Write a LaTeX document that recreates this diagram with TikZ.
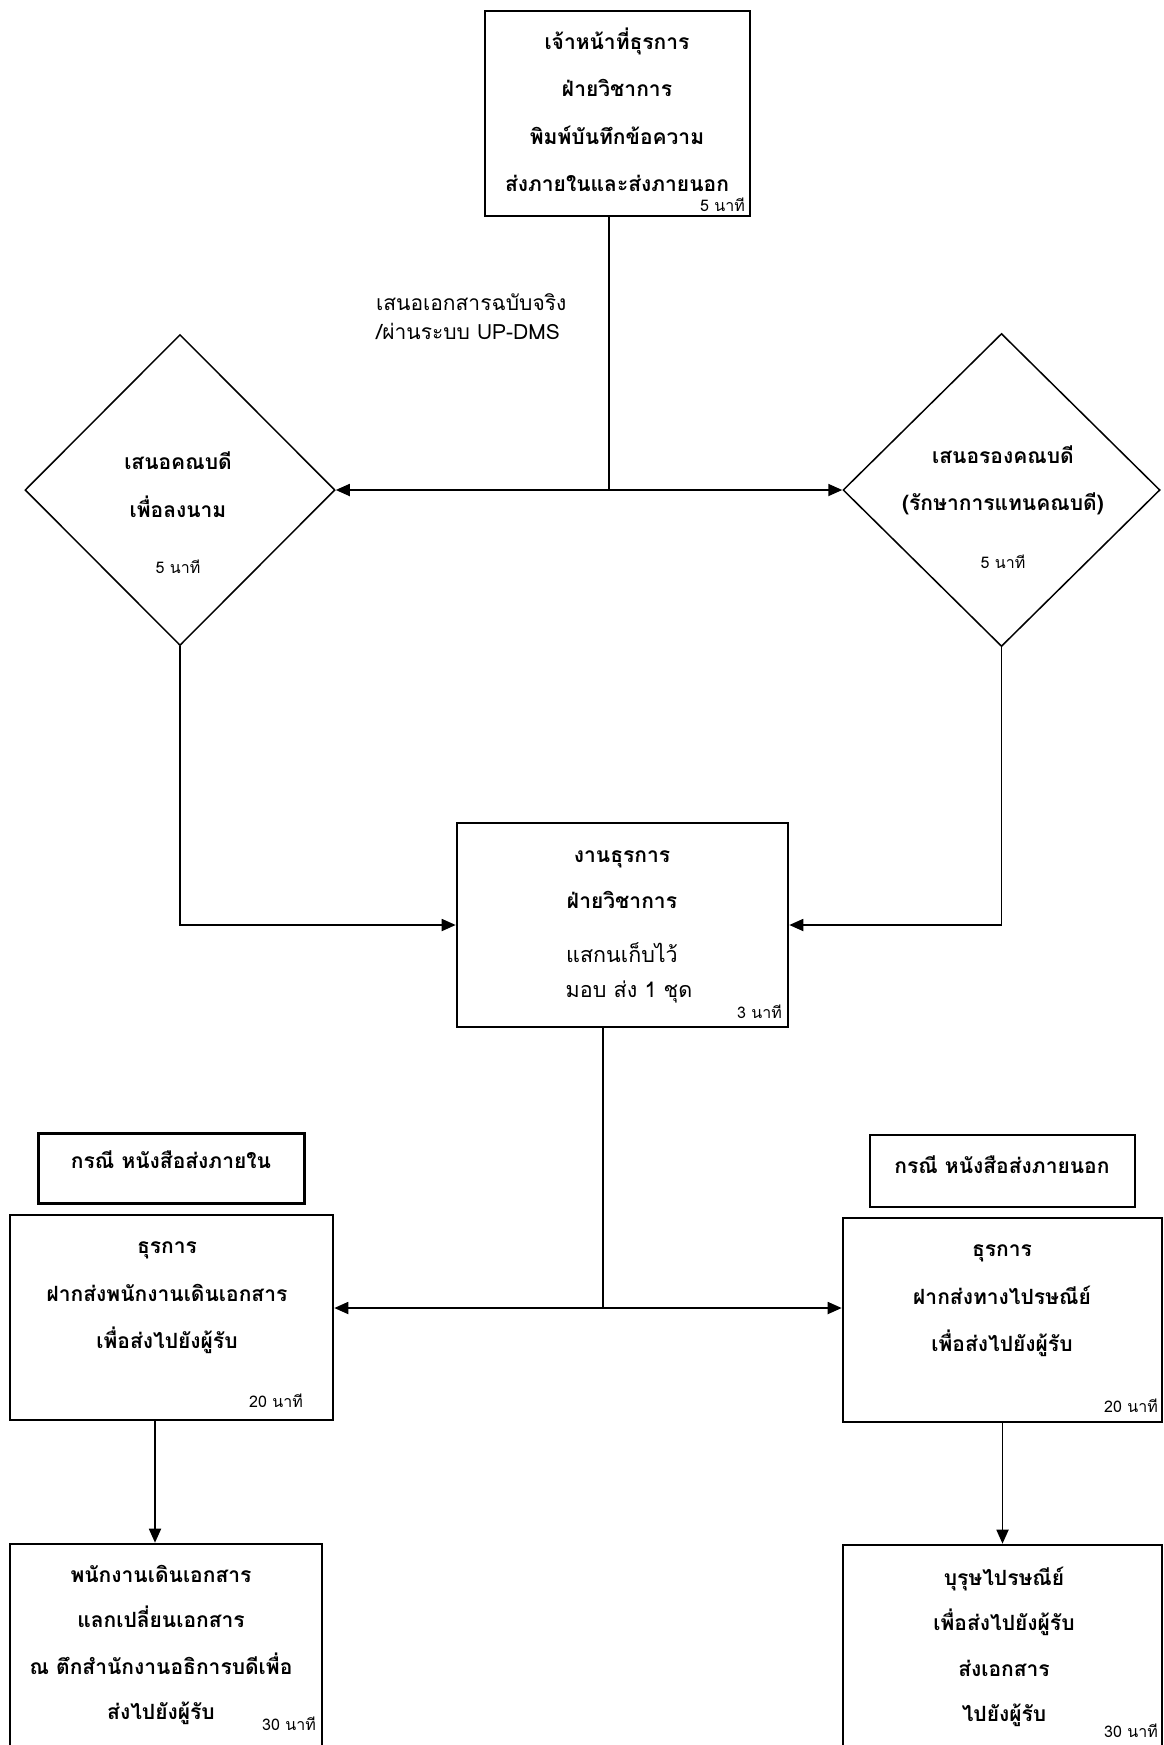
\documentclass[tikz,border=0pt]{standalone}
\usepackage{fontspec}
\newfontfamily\thaifont[Script=Thai]{Loma}
\usetikzlibrary{arrows.meta,shapes.geometric}
\begin{document}
\begin{tikzpicture}[x=1pt,y=-1pt,
  box/.style={draw, rectangle, line width=2.6pt, inner sep=0pt},
  dia/.style={draw, diamond, line width=1.5pt, inner sep=0pt},
  conn/.style={line width=1.8pt},
  arr/.style={line width=1.8pt, -{Triangle[length=14pt,width=12pt]}},
  tb/.style={font=\thaifont\bfseries\fontsize{21}{24}\selectfont, anchor=base, yshift=-7pt, inner sep=0pt},
  tr/.style={font=\thaifont\fontsize{21.5}{24}\selectfont, anchor=base, yshift=-7pt, inner sep=0pt},
  tl/.style={font=\thaifont\fontsize{21}{24}\selectfont, anchor=base west, yshift=-7pt, inner sep=0pt},
  ts/.style={font=\thaifont\fontsize{16}{18}\selectfont, anchor=base east, yshift=-5pt, inner sep=0pt},
  tsc/.style={font=\thaifont\fontsize{16}{18}\selectfont, anchor=base, yshift=-5pt, inner sep=0pt}]
\useasboundingbox (0,0) rectangle (1163,1745);
\clip (0,0) rectangle (1163,1745);

% shapes
\node[box, minimum width=265pt, minimum height=205pt] (top) at (617.5,113.5) {};
\node[dia, minimum width=310pt, minimum height=311pt] (ld) at (180,490) {};
\node[dia, minimum width=317pt, minimum height=313pt] (rd) at (1001.5,490) {};
\node[box, minimum width=331pt, minimum height=204pt] (mid) at (622.5,925) {};
\node[box, minimum width=266pt, minimum height=70pt] (lc) at (171.5,1168.5) {};
\node[box, minimum width=265pt, minimum height=72pt] (rc) at (1002.5,1171) {};
\node[box, minimum width=323pt, minimum height=205pt] (lb) at (171.5,1317.5) {};
\node[box, minimum width=319pt, minimum height=204pt] (rb) at (1002.5,1320) {};
\node[box, minimum width=312pt, minimum height=230pt] (lbb) at (166,1659) {};
\node[box, minimum width=319pt, minimum height=230pt] (rbb) at (1002.5,1660) {};

% connectors
\coordinate (j1) at (609,490);
\draw[conn] (top.south -| j1) -- (j1);
\draw[arr] (j1) -- (ld.east);
\draw[arr] (j1) -- (rd.west);
\draw[arr] (ld.south) |- (mid.west);
\draw[arr] (rd.south) |- (mid.east);
\coordinate (j2) at (603,1308);
\draw[conn] (mid.south -| j2) -- (j2);
\draw[arr] (j2) -- (j2 -| lb.east);
\draw[arr] (j2) -- (j2 -| rb.west);
\coordinate (j3) at (155,1420);
\draw[arr] (lb.south -| j3) -- (lbb.north -| j3);
\draw[arr] (rb.south) -- (rb.south |- rbb.north);

% texts
\node[tb] (t1) at (617,42) {เจ้าหน้าที่ธุรการ};
\node[tb] (t2) at (617,89) {ฝ่ายวิชาการ};
\node[tb] (t3) at (617,137) {พิมพ์บันทึกข้อความ};
\node[tb] (t4) at (617,184) {ส่งภายในและส่งภายนอก};
\node[ts] (t5) at (745,206) {5 นาที};

\node[tl] (lab1) at (376,303) {เสนอเอกสารฉบับจริง};
\node[tl] (lab2) at (376,332) {/ผ่านระบบ UP-DMS};

\node[tb] (d1) at (178,462) {เสนอคณบดี};
\node[tb] (d2) at (178,510) {เพื่อลงนาม};
\node[tsc] (d3) at (178,568) {5 นาที};

\node[tb] (e1) at (1003,456) {เสนอรองคณบดี};
\node[tb] (e2) at (1003,503) {(รักษาการแทนคณบดี)};
\node[tsc] (e3) at (1003,563) {5 นาที};

\node[tb] (m1) at (622,855) {งานธุรการ};
\node[tb] (m2) at (622,901) {ฝ่ายวิชาการ};
\node[tr] (m3) at (622,955) {แสกนเก็บไว้};
\node[tr] (m4) at (629,990) {มอบ ส่ง 1 ชุด};
\node[ts] (m5) at (782,1013) {3 นาที};

\node[tb] (c1) at (171,1161) {กรณี หนังสือส่งภายใน};
\node[tb] (c2) at (1002,1166) {กรณี หนังสือส่งภายนอก};

\node[tb] (l1) at (167,1246) {ธุรการ};
\node[tb] (l2) at (167,1294) {ฝากส่งพนักงานเดินเอกสาร};
\node[tb] (l3) at (167,1341) {เพื่อส่งไปยังผู้รับ};
\node[ts] (l4) at (303,1402) {20 นาที};

\node[tb] (r1) at (1002,1249) {ธุรการ};
\node[tb] (r2) at (1002,1297) {ฝากส่งทางไปรษณีย์};
\node[tb] (r3) at (1002,1344) {เพื่อส่งไปยังผู้รับ};
\node[ts] (r4) at (1158,1407) {20 นาที};

\node[tb] (b1) at (161,1575) {พนักงานเดินเอกสาร};
\node[tb] (b2) at (161,1620) {แลกเปลี่ยนเอกสาร};
\node[tb] (b3) at (161,1667) {ณ ตึกสำนักงานอธิการบดีเพื่อ};
\node[tb] (b4) at (161,1712) {ส่งไปยังผู้รับ};
\node[ts] (b5) at (316,1725) {30 นาที};

\node[tb] (s1) at (1004,1578) {บุรุษไปรษณีย์};
\node[tb] (s2) at (1004,1623) {เพื่อส่งไปยังผู้รับ};
\node[tb] (s3) at (1004,1669) {ส่งเอกสาร};
\node[tb] (s4) at (1004,1714) {ไปยังผู้รับ};
\node[ts] (s5) at (1158,1732) {30 นาที};
\end{tikzpicture}
\end{document}
